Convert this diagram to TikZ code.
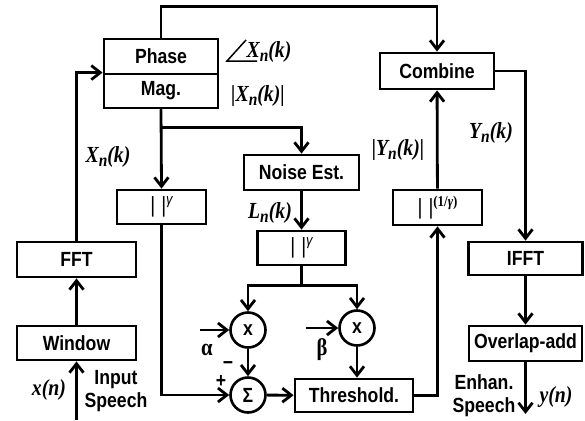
\documentclass[tikz,border=0pt]{standalone}
\usepackage{fontspec}
\setmainfont[FakeStretch=0.86]{Liberation Serif}
\setsansfont[FakeStretch=0.86]{Liberation Sans}
\usetikzlibrary{arrows.meta,positioning,calc}
\newcommand{\lowix}[1]{\raisebox{-4pt}{\fontsize{18}{18}\selectfont #1}}
\newcommand{\pw}[1]{{\fontsize{22}{22}\selectfont\mdseries\upshape|\hspace{6pt}|}\raisebox{8pt}{\fontsize{15}{15}\selectfont #1}}
\begin{document}
\begin{tikzpicture}[x=1pt,y=-1pt,
    blk/.style={draw, line width=2.8pt, inner sep=0pt, font=\sffamily\bfseries\fontsize{20.5}{22}\selectfont},
    op/.style={draw, circle, line width=2.6pt, minimum size=35pt, inner sep=0pt, font=\sffamily\bfseries\fontsize{20.5}{22}\selectfont},
    lbl/.style={font=\bfseries\itshape\fontsize{23}{25}\selectfont, inner sep=0pt},
    txt/.style={font=\sffamily\bfseries\fontsize{20.5}{23}\selectfont, align=center, inner sep=0pt},
    arr/.style={-{Straight Barb[length=9pt,width=14pt]}, line width=2.8pt}
]
\useasboundingbox (0,0) rectangle (585,420);
% blocks
\node[blk, minimum width=114pt, minimum height=35pt] (phase) at (161,56.5) {Phase};
\node[blk, minimum width=114pt, minimum height=34pt] (mag) at (161,91) {Mag.};
\node[blk, minimum width=114pt, minimum height=36pt] (combine) at (437,71) {Combine};
\node[blk, minimum width=115pt, minimum height=35pt] (noise) at (301.5,172.5) {Noise Est.};
\node[blk, minimum width=89pt, minimum height=34pt] (pwa) at (161.5,207) {\pw{\itshape\mdseries γ}};
\node[blk, minimum width=88pt, minimum height=34pt] (pwb) at (301.5,248) {\pw{\itshape\mdseries γ}};
\node[blk, minimum width=89pt, minimum height=35pt] (pwinv) at (437.5,207.5) {\pw{\rmfamily\bfseries(1/\itshape γ\upshape)}};
\node[blk, minimum width=119pt, minimum height=35pt] (fft) at (76.5,259.5) {FFT};
\node[blk, minimum width=119pt, minimum height=34pt] (win) at (76.5,343) {Window};
\node[blk, minimum width=114pt, minimum height=33pt] (ifft) at (525.5,258.5) {IFFT};
\node[blk, minimum width=113pt, minimum height=35pt] (ola) at (525.5,343.5) {Overlap-add};
\node[blk, minimum width=118pt, minimum height=33pt] (thr) at (354,395.5) {Threshold.};
\node[op] (mula) at (248,330) {x};
\node[op] (mulb) at (357,328) {x};
\node[op] (sum) at (248,395) {Σ};

% free ends
\coordinate (xin) at (76.5,420);
\coordinate (yout) at (525.5,414);
\coordinate (ain) at (200,330);
\coordinate (bin) at (306,328);

% connectors
\draw[arr] (phase.north) -- ++(0,-31) -| (combine.north);
\draw[arr] (combine.east) -| (ifft.north);
\draw[arr] (ifft) -- (ola);
\draw[arr] (ola.south) -- (ola.south |- yout);
\draw[arr] (xin) -- (win.south);
\draw[arr] (win) -- (fft);
\draw[arr] (fft.north) |- (mag.north west);
\draw[arr] (mag.south) -- (pwa.north);
\draw[arr] (mag.south) -- ++(0,18) -| (noise.north);
\draw[arr] (noise) -- (pwb);
\draw[arr] (pwb.south) -- ++(0,19) coordinate (split) -| (mula.north);
\draw[arr] (split) -| (mulb.north);
\draw[arr] (ain) -- (mula.west);
\draw[arr] (bin) -- (mulb.west);
\draw[arr] (mula) -- (sum);
\draw[arr] (pwa.south) |- (sum.west);
\draw[arr] (sum) -- (thr);
\draw[arr] (mulb) -- (mulb |- thr.north);
\draw[arr] (thr.east) -| (pwinv.south);
\draw[arr] (pwinv) -- (combine);

% labels
\node[lbl] (lxa) at (269,52) {X\lowix{n}(k)};
\draw[line width=1.5pt] (246,40) -- (227,61) -- (257,61);
\node[lbl] (lxm) at (258,96) {|X\lowix{n}(k)|};
\node[lbl] (lx) at (108,157) {X\lowix{n}(k)};
\node[lbl] (ll) at (270,213) {L\lowix{n}(k)};
\node[lbl] (lym) at (398,150) {|Y\lowix{n}(k)|};
\node[lbl] (ly) at (491,133) {Y\lowix{n}(k)};
\node[lbl, font=\bfseries\fontsize{24}{25}\selectfont] (lal) at (207,350) {α};
\node[lbl, font=\bfseries\fontsize{24}{25}\selectfont] (lbe) at (322,350) {β};
\node[txt] (lmi) at (228,366) {−};
\node[txt] (lpl) at (221,381) {+};
\node[lbl] (lxn) at (49,390) {x(n)};
\node[lbl] (lyn) at (556,397) {y(n)};
\node[txt] (lin) at (116,391) {Input\\Speech};
\node[txt] (lout) at (484,396) {Enhan.\\Speech};
\end{tikzpicture}
\end{document}
